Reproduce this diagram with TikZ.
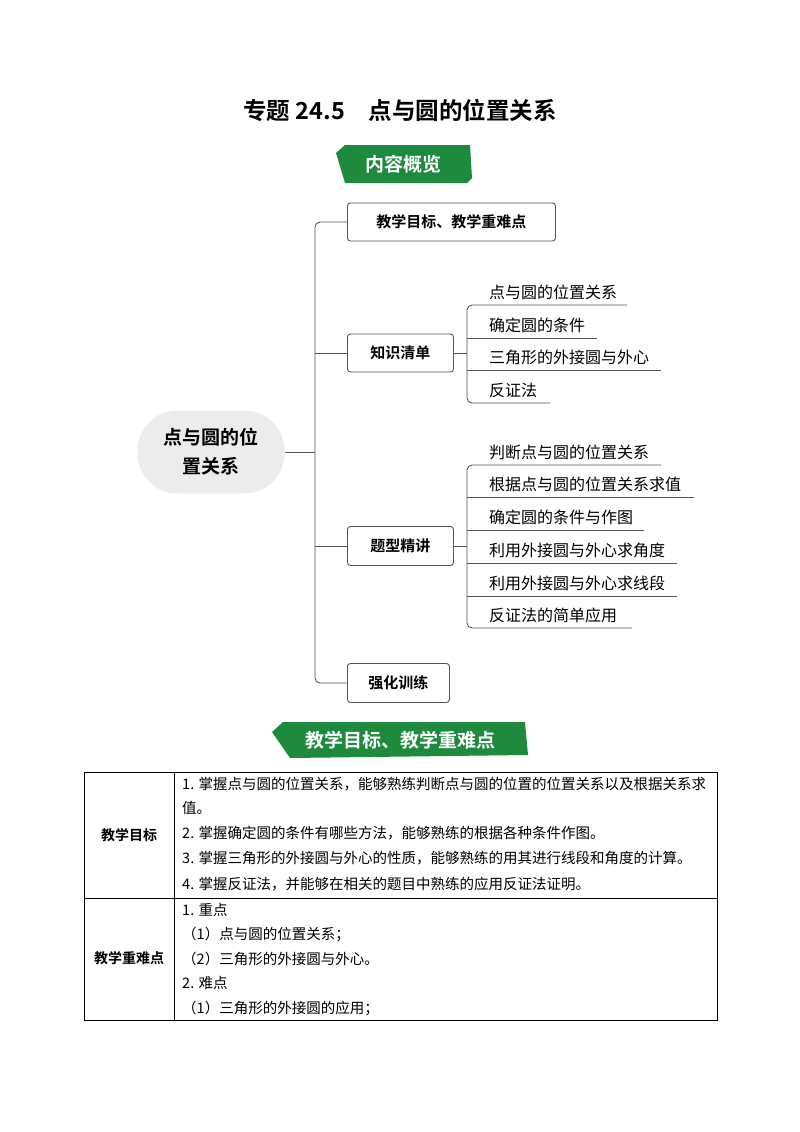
\documentclass[tikz,border=0pt]{standalone}
\usepackage{fontspec}
\setmainfont{Noto Sans CJK SC}[BoldFont={Noto Sans CJK SC Bold}]
\usetikzlibrary{positioning}
\definecolor{bgreen}{HTML}{1E8A3E}
\definecolor{pillgray}{HTML}{ECECEC}
\definecolor{lgray}{HTML}{555555}
\begin{document}
\begin{tikzpicture}[x=1pt,y=-1pt,
  box/.style={draw=lgray,line width=0.9pt,rounded corners=3pt,font=\bfseries\fontsize{15}{18}\selectfont,inner sep=0pt,anchor=west},
  item/.style={font=\fontsize{16}{18}\selectfont,anchor=south west,inner sep=0pt},
  br/.style={draw=lgray,line width=0.9pt,rounded corners=5pt},
  cell/.style={font=\fontsize{14.5}{16}\selectfont,anchor=west,inner sep=0pt},
  hd/.style={font=\bfseries\fontsize{14}{16}\selectfont,inner sep=0pt}]
\useasboundingbox (0,0) rectangle (800,1132);
\node[font=\bfseries\fontsize{23.5}{26}\selectfont] (title) at (400,110) {专题 24.5\quad 点与圆的位置关系};
% banner 1
\fill[bgreen] (345,145) -- (470,145) -- (472,178) -- (467,183) -- (345,183) -- (336,153) -- cycle;
\node[text=white,font=\bfseries\fontsize{19}{21}\selectfont] (b1) at (403,164) {内容概览};
% central
\node[fill=pillgray,rounded corners=40pt,minimum width=147pt,minimum height=83pt,align=center,font=\bfseries\fontsize{19}{29}\selectfont] (c) at (211,452) {点与圆的位\\置关系};
% boxes
\node[box,minimum width=208pt,minimum height=38pt] (m1) at (347,222) {教学目标、教学重难点};
\node[box,minimum width=106pt,minimum height=38pt] (m2) at (347,353) {知识清单};
\node[box,minimum width=106pt,minimum height=39pt] (m3) at (347,546) {题型精讲};
\node[box,minimum width=102pt,minimum height=39pt] (m4) at (347,683) {强化训练};
\coordinate (t) at (315,452);
\draw[br] (c.east) -- (t);
\draw[br] (m1.west) -| (315,452) |- (m4.west);
\draw[br] (315,353) -- (m2.west);
\draw[br] (315,546) -- (m3.west);
% sub items 1
\foreach \n/\y/\e/\t in {a1/305/627/点与圆的位置关系, a2/338/597/确定圆的条件, a3/370/661/三角形的外接圆与外心, a4/403/550/反证法}{
  \node[item] (\n) at (489,\y-5) {\t};
  \coordinate (\n e) at (\e,\y);
}
\draw[br] (m2.east) -- (467,353);
\draw[br] (a1e) -- (467,305) -- (467,403) -- (a4e);
\draw[br] (467,338) -- (a2e);
\draw[br] (467,370) -- (a3e);
% sub items 2
\foreach \n/\y/\e/\t in {b1/465/661/判断点与圆的位置关系, b2/497/694/根据点与圆的位置关系求值, b3/530/644/确定圆的条件与作图, b4/563/677/利用外接圆与外心求角度, b5/596/677/利用外接圆与外心求线段, b6/628/632/反证法的简单应用}{
  \node[item] (\n) at (489,\y-5) {\t};
  \coordinate (\n e) at (\e,\y);
}
\draw[br] (m3.east) -- (467,546);
\draw[br] (b1e) -- (467,465) -- (467,628) -- (b6e);
\draw[br] (467,497) -- (b2e);
\draw[br] (467,530) -- (b3e);
\draw[br] (467,563) -- (b4e);
\draw[br] (467,596) -- (b5e);
% banner 2
\fill[bgreen] (283,722) -- (525,722) -- (528,755) -- (290,758) -- (272,732) -- cycle;
\node[text=white,font=\bfseries\fontsize{19}{21}\selectfont] (b2) at (400,740) {教学目标、教学重难点};
% table
\draw[line width=0.9pt] (84,772) rectangle (717,1020);
\draw[line width=0.9pt] (174,772) -- (174,1020);
\draw[line width=0.9pt] (84,898) -- (717,898);
\node[hd] (h1) at (129,835) {教学目标};
\node[hd] (h2) at (129,958) {教学重难点};
\node[cell] (r1) at (182,784) {1. 掌握点与圆的位置关系，能够熟练判断点与圆的位置的位置关系以及根据关系求};
\node[cell] (r2) at (182,808) {值。};
\node[cell] (r3) at (182,833) {2. 掌握确定圆的条件有哪些方法，能够熟练的根据各种条件作图。};
\node[cell] (r4) at (182,858) {3. 掌握三角形的外接圆与外心的性质，能够熟练的用其进行线段和角度的计算。};
\node[cell] (r5) at (182,884) {4. 掌握反证法，并能够在相关的题目中熟练的应用反证法证明。};
\node[cell] (s1) at (182,910) {1. 重点};
\node[cell] (s2) at (182,934) {（1）点与圆的位置关系；};
\node[cell] (s3) at (182,959) {（2）三角形的外接圆与外心。};
\node[cell] (s4) at (182,983) {2. 难点};
\node[cell] (s5) at (182,1008) {（1）三角形的外接圆的应用；};
\end{tikzpicture}
\end{document}
